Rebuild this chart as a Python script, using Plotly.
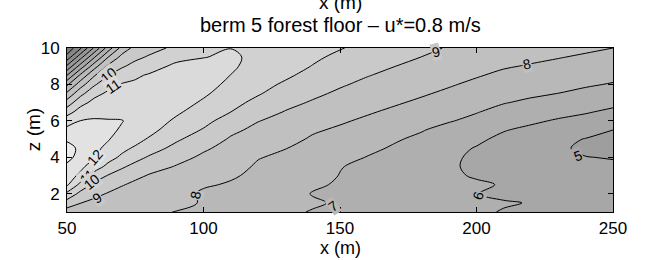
import numpy as np
import plotly.graph_objects as go

# ---- data: wind speed field u (m/s) on an x-z grid ----
x_m = [50, 55, 60, 65, 70, 75, 80, 90, 100, 110, 120, 130, 140, 150,
       160, 170, 180, 190, 200, 210, 220, 230, 240, 250]
z_m = [1.0, 1.5, 2.0, 2.5, 3.0, 3.5, 4.0, 4.5, 5.0, 5.5,
       6.0, 6.5, 7.0, 7.5, 8.0, 8.5, 9.0, 9.5, 10.0]

# vertical profiles (z = 1.0 ... 10.0) at each x station
u_x050 = [8.55, 9.55, 10.76, 12.15, 12.51, 12.86, 13.2, 13.25, 12.9, 12.25, 11.6, 10.56, 9.44, 8.21, 6.8, 5.0, 3.18, 1.37, 0.2]
u_x055 = [8.4, 9.02, 9.69, 10.69, 11.76, 12.26, 12.75, 12.85, 12.48, 12.25, 12.02, 11.42, 10.68, 9.71, 8.57, 7.23, 5.45, 3.66, 1.88]
u_x060 = [8.35, 8.74, 9.26, 9.78, 10.67, 11.44, 12.05, 12.25, 12.35, 12.3, 12.1, 11.7, 11.28, 10.72, 9.87, 8.92, 7.59, 5.9, 4.15]
u_x065 = [8.3, 8.6, 8.93, 9.44, 9.95, 10.79, 11.32, 11.75, 12.08, 12.15, 12.05, 11.77, 11.47, 11.16, 10.67, 9.95, 9.17, 7.96, 6.42]
u_x070 = [8.25, 8.4, 8.6, 9.09, 9.6, 10.14, 10.85, 11.23, 11.53, 11.93, 12.03, 11.78, 11.54, 11.3, 11.06, 10.5, 9.87, 9.28, 8.32]
u_x075 = [8.2, 8.35, 8.55, 8.76, 9.26, 9.75, 10.29, 10.88, 11.3, 11.6, 11.8, 11.7, 11.47, 11.3, 11.13, 10.88, 10.3, 9.78, 9.33]
u_x080 = [8.12, 8.2, 8.3, 8.45, 8.93, 9.42, 9.91, 10.41, 10.91, 11.3, 11.5, 11.55, 11.5, 11.38, 11.25, 11.08, 10.64, 10.1, 9.65]
u_x090 = [7.98, 8.17, 8.37, 8.56, 8.75, 8.95, 9.31, 9.74, 10.14, 10.49, 10.85, 11.15, 11.35, 11.45, 11.45, 11.35, 11.18, 10.74, 10.2]
u_x100 = [7.72, 7.95, 7.85, 8.11, 8.35, 8.59, 8.84, 9.13, 9.53, 9.93, 10.26, 10.57, 10.89, 11.12, 11.25, 11.3, 11.2, 10.98, 10.6]
u_x110 = [7.55, 7.65, 7.78, 7.91, 8.11, 8.3, 8.5, 8.7, 8.9, 9.2, 9.6, 10.01, 10.3, 10.62, 10.85, 10.99, 11.1, 11.1, 10.99]
u_x120 = [7.4, 7.5, 7.6, 7.7, 7.8, 7.9, 8.04, 8.28, 8.53, 8.77, 9.03, 9.39, 9.74, 10.08, 10.3, 10.55, 10.75, 10.85, 10.8]
u_x130 = [7.15, 7.25, 7.35, 7.45, 7.57, 7.7, 7.85, 8.02, 8.26, 8.49, 8.72, 8.96, 9.25, 9.56, 9.87, 10.15, 10.35, 10.5, 10.55]
u_x140 = [6.95, 7.1, 6.96, 7.11, 7.27, 7.43, 7.59, 7.74, 7.9, 8.1, 8.37, 8.64, 8.91, 9.18, 9.44, 9.71, 9.97, 10.15, 10.3]
u_x150 = [6.75, 6.9, 6.87, 6.92, 6.98, 7.03, 7.28, 7.48, 7.68, 7.88, 8.1, 8.35, 8.6, 8.85, 9.1, 9.34, 9.58, 9.82, 10.05]
u_x160 = [6.55, 6.6, 6.65, 6.7, 6.77, 6.85, 6.97, 7.19, 7.42, 7.64, 7.86, 8.09, 8.33, 8.56, 8.8, 9.04, 9.28, 9.52, 9.76]
u_x170 = [6.4, 6.45, 6.5, 6.55, 6.62, 6.7, 6.8, 6.9, 7.09, 7.34, 7.6, 7.85, 8.09, 8.32, 8.55, 8.78, 9.01, 9.25, 9.47]
u_x180 = [6.3, 6.33, 6.37, 6.42, 6.48, 6.55, 6.63, 6.72, 6.82, 7.05, 7.31, 7.58, 7.85, 8.09, 8.32, 8.54, 8.76, 8.99, 9.15]
u_x190 = [6.25, 6.25, 6.22, 6.18, 6.12, 6.1, 6.15, 6.25, 6.45, 6.7, 7.06, 7.32, 7.58, 7.84, 8.08, 8.3, 8.52, 8.74, 8.95]
u_x200 = [6.08, 6.04, 6.01, 6.1, 5.93, 5.85, 5.85, 5.95, 6.16, 6.46, 6.76, 7.05, 7.31, 7.56, 7.82, 8.07, 8.33, 8.55, 8.78]
u_x210 = [5.97, 6.04, 5.9, 5.95, 5.72, 5.68, 5.66, 5.7, 5.8, 6.05, 6.38, 6.72, 7.04, 7.3, 7.56, 7.82, 8.08, 8.3, 8.55]
u_x220 = [5.85, 5.98, 5.8, 5.66, 5.55, 5.48, 5.45, 5.5, 5.6, 5.8, 6.15, 6.5, 6.84, 7.14, 7.4, 7.66, 7.93, 8.18, 8.42]
u_x230 = [5.75, 5.72, 5.6, 5.45, 5.3, 5.18, 5.1, 5.06, 5.2, 5.5, 5.9, 6.29, 6.64, 6.99, 7.26, 7.52, 7.78, 8.04, 8.3]
u_x240 = [5.65, 5.6, 5.5, 5.35, 5.2, 5.08, 5.01, 4.93, 4.97, 5.31, 5.7, 6.08, 6.43, 6.79, 7.1, 7.37, 7.63, 7.89, 8.15]
u_x250 = [5.6, 5.5, 5.4, 5.28, 5.15, 5.06, 4.98, 4.86, 4.85, 5.0, 5.42, 5.83, 6.22, 6.58, 6.94, 7.22, 7.48, 7.74, 8.0]

# contour labels shown on the picture
label_text = ["10", "11", "12", "11", "10", "9", "8", "7", "6", "5", "9", "8"]
label_x = [65.3, 67.1, 60.3, 57.4, 59.0, 60.9, 97.0, 147.5, 200.5, 237.0, 185.0, 218.4]
label_z = [8.5, 7.89, 4.02, 2.92, 2.64, 1.78, 1.95, 1.35, 1.9, 4.1, 9.78, 9.1]

tick_x = [50, 100, 150, 200, 250]
tick_z = [2, 4, 6, 8, 10]

# ---- styling ----
label_angle = [-40, -35, -50, -40, -40, -35, -80, -35, -75, -20, -15, -12]
GRAY_LO, GRAY_HI, LEV_START, LEV_END, LEV_SIZE = 124, 243, 1, 14, 1
FONT = "Liberation Sans, Arial, Helvetica, sans-serif"


def gray(v):
    g = int(round(GRAY_LO + (GRAY_HI - GRAY_LO) * min(max(v, 0), 14) / 14))
    return f"rgb({g},{g},{g})"


stations = [u_x050, u_x055, u_x060, u_x065, u_x070, u_x075, u_x080, u_x090,
            u_x100, u_x110, u_x120, u_x130, u_x140, u_x150, u_x160, u_x170,
            u_x180, u_x190, u_x200, u_x210, u_x220, u_x230, u_x240, u_x250]
u = np.array(stations).T

fig = go.Figure(go.Contour(
    x=x_m, y=z_m, z=u,
    contours=dict(start=LEV_START, end=LEV_END, size=LEV_SIZE,
                  coloring="fill", showlabels=False),
    colorscale=[[0, gray(0)], [1, gray(14)]],
    line=dict(color="black", width=1),
    showscale=False, hoverinfo="skip",
))

annotations = []
for t, xv, zv, ang in zip(label_text, label_x, label_z, label_angle):
    annotations.append(dict(x=xv, y=zv, xref="x", yref="y", text=t,
                            showarrow=False, textangle=ang,
                            font=dict(size=14, color="black", family=FONT),
                            bgcolor=gray(float(t)), borderpad=0))

annotations += [
    dict(x=0.5, y=1.28, xref="paper", yref="paper", text="x (m)",
         showarrow=False, yanchor="middle", font=dict(size=19, family=FONT, color="black")),
    dict(x=0.5, y=1.14, xref="paper", yref="paper",
         text="berm 5 forest floor \u2013 u*=0.8 m/s",
         showarrow=False, yanchor="middle", font=dict(size=20, family=FONT, color="black")),
    dict(x=0.5, y=-0.222, xref="paper", yref="paper", text="x (m)",
         showarrow=False, yanchor="middle", font=dict(size=18, family=FONT, color="black")),
    dict(x=-0.062, y=0.5, xref="paper", yref="paper", text="z (m)",
         showarrow=False, textangle=-90, xanchor="center", yanchor="middle",
         font=dict(size=19, family=FONT, color="black")),
]

axis_common = dict(showline=True, linecolor="black", linewidth=1, mirror="ticks",
                   ticks="inside", ticklen=5, tickcolor="black", tickwidth=1,
                   showgrid=False, zeroline=False,
                   tickfont=dict(size=17, family=FONT, color="black"))

fig.update_layout(
    width=649, height=260,
    margin=dict(l=67, r=36, t=48, b=48, pad=0),
    paper_bgcolor="white", plot_bgcolor="white",
    font=dict(family=FONT, color="black"),
    xaxis=dict(range=[50, 250], tickvals=tick_x, ticklabelstandoff=1, **axis_common),
    yaxis=dict(range=[1, 10], tickvals=tick_z, ticklabelstandoff=3, **axis_common),
    annotations=annotations,
    showlegend=False,
)

fig.write_html("out.html",
               config={"displayModeBar": False, "staticPlot": True},
               post_script="document.body.style.margin='0';document.body.style.overflow='hidden';")
